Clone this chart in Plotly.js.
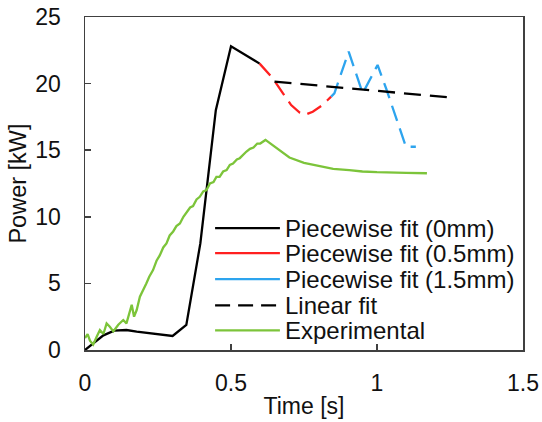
<!DOCTYPE html>
<html>
<head>
<meta charset="utf-8">
<script src="https://cdn.plot.ly/plotly-3.0.1.min.js"></script>
<style>html,body{margin:0;padding:0;background:#fff;}#chart{width:542px;height:422px;}</style>
</head>
<body>
<div id="chart"></div>
<script>
// Piecewise fit (0mm)
var t0 = [0, 0.028, 0.063, 0.10, 0.142, 0.177, 0.222, 0.256, 0.30, 0.347, 0.395, 0.448, 0.50, 0.598];
var p0 = [0, 0.5, 1.1, 1.45, 1.5, 1.38, 1.25, 1.13, 1.05, 1.88, 8.0, 18.0, 22.8, 21.5];
// Piecewise fit (0.5mm)
var t1 = [0.598, 0.643, 0.678, 0.706, 0.735, 0.752, 0.780, 0.809, 0.831, 0.843];
var p1 = [21.5, 20.4, 19.27, 18.39, 17.82, 17.64, 17.89, 18.32, 18.77, 19.02];
// Piecewise fit (1.5mm)
var t2 = [0.843, 0.854, 0.903, 0.951, 1.002, 1.031, 1.099, 1.133];
var p2 = [19.02, 19.27, 22.4, 19.27, 21.4, 19.65, 15.26, 15.26];
// Linear fit
var tL = [0.649, 1.245];
var pL = [20.15, 18.97];
// Experimental
var tE = [0, 0.009, 0.017, 0.028, 0.040, 0.051, 0.063, 0.074, 0.085, 0.097, 0.114, 0.131, 0.142, 0.154, 0.160, 0.168, 0.177, 0.188,
          0.20, 0.21, 0.22, 0.233, 0.245, 0.256, 0.268, 0.279, 0.29, 0.302, 0.313, 0.325, 0.337, 0.348, 0.36, 0.37, 0.382, 0.393,
          0.405, 0.416, 0.428, 0.44, 0.45, 0.461, 0.473, 0.485, 0.496, 0.507, 0.52, 0.53, 0.542, 0.553, 0.565, 0.577, 0.59, 0.60,
          0.618, 0.64, 0.666, 0.70, 0.75, 0.80, 0.85, 0.905, 0.95, 1.0, 1.05, 1.1, 1.171];
var pE = [0.9, 1.2, 0.7, 0.4, 1.0, 1.5, 1.2, 2.0, 1.75, 1.4, 1.9, 2.25, 2.0, 2.9, 3.4, 2.5, 3.0, 4.0,
          4.5, 5.0, 5.5, 6.0, 6.7, 7.1, 7.7, 8.0, 8.6, 8.9, 9.3, 9.5, 10.0, 10.3, 10.7, 10.8, 11.3, 11.5,
          11.9, 12.0, 12.5, 12.6, 13.0, 13.0, 13.4, 13.5, 13.9, 14.0, 14.3, 14.4, 14.7, 14.9, 15.1, 15.2, 15.5, 15.5,
          15.77, 15.4, 15.0, 14.45, 14.05, 13.8, 13.6, 13.5, 13.4, 13.35, 13.3, 13.3, 13.27];

var names = ['Piecewise fit (0mm)', 'Piecewise fit (0.5mm)', 'Piecewise fit (1.5mm)', 'Linear fit', 'Experimental'];
var colors = ['#000000', '#FF2020', '#2DA4EE', '#000000', '#7CC43A'];
var dashes = ['solid', '16px,8px', '16px,8px', '17px,9px', 'solid'];
var xs = [t0, t1, t2, tL, tE];
var ys = [p0, p1, p2, pL, pE];

var traces = xs.map(function (x, i) {
  return {x: x, y: ys[i], type: 'scatter', mode: 'lines', name: names[i],
          line: {color: colors[i], width: 2.3, dash: dashes[i]}, showlegend: false};
});

// custom legend (sample line + label) in paper coordinates
var legY = [0.366, 0.291, 0.213, 0.134, 0.059];
var shapes = [], annotations = [];
names.forEach(function (n, i) {
  shapes.push({type: 'line', xref: 'paper', yref: 'paper', x0: 0.297, x1: 0.445, y0: legY[i], y1: legY[i],
               line: {color: colors[i], width: 2.3, dash: i === 3 ? '15px,8px' : 'solid'}});
  annotations.push({xref: 'paper', yref: 'paper', x: 0.452, y: legY[i], xanchor: 'left', yanchor: 'middle',
                    text: n, showarrow: false, font: {family: 'Liberation Sans, Arial, sans-serif', size: 24, color: '#111'}});
});

var layout = {
  width: 542, height: 422,
  margin: {l: 85, r: 19, t: 17, b: 72},
  paper_bgcolor: '#fff', plot_bgcolor: '#fff',
  font: {family: 'Liberation Sans, Arial, sans-serif', size: 23, color: '#111'},
  xaxis: {range: [0, 1.5], dtick: 0.5, tick0: 0, ticks: 'inside', ticklen: 6, tickwidth: 1.5, tickcolor: '#404040',
          showline: true, linecolor: '#404040', linewidth: 1.5, mirror: true, showgrid: false, zeroline: false,
          ticklabelstandoff: 12,
          title: {text: 'Time [s]', font: {size: 23}, standoff: 3}},
  yaxis: {range: [0, 25], dtick: 5, tick0: 0, ticks: 'inside', ticklen: 6, tickwidth: 1.5, tickcolor: '#404040',
          showline: true, linecolor: '#404040', linewidth: 1.5, mirror: true, showgrid: false, zeroline: false,
          ticklabelstandoff: 18,
          title: {text: 'Power [kW]', font: {size: 23.5}, standoff: 2}},
  shapes: shapes,
  annotations: annotations,
  showlegend: false
};

Plotly.newPlot('chart', traces, layout, {displayModeBar: false, staticPlot: true});
</script>
</body>
</html>
